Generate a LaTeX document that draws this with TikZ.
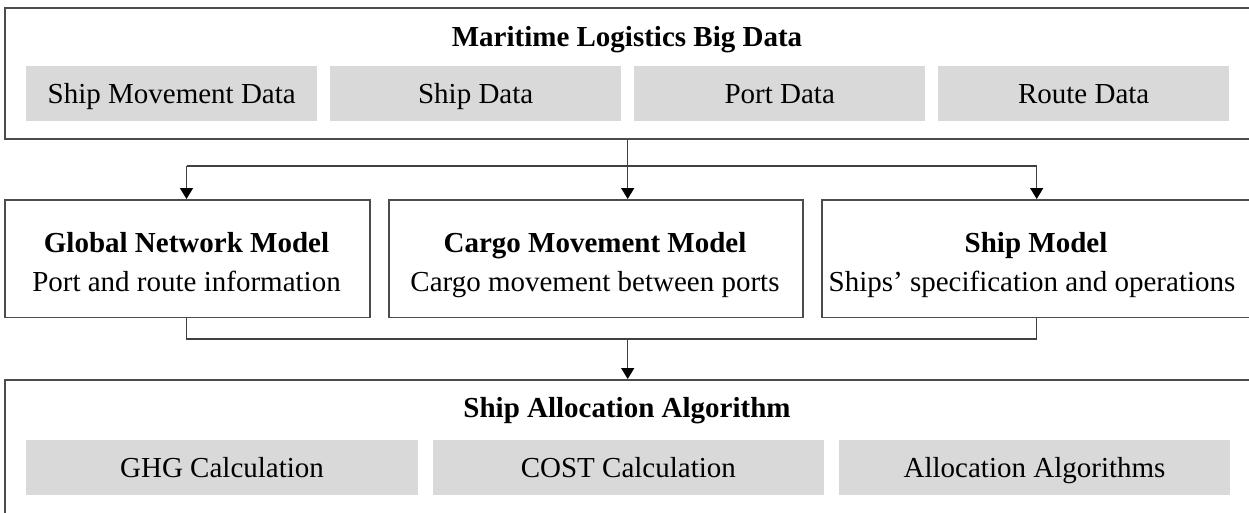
\documentclass[tikz,border=0pt]{standalone}
\usepackage{fontspec}
\setmainfont{Liberation Serif}
\usetikzlibrary{arrows.meta}
\begin{document}
\begin{tikzpicture}[x=1pt,y=-1pt,
  frame/.style={draw=black!70, line width=1.5pt, anchor=north west, inner sep=0pt},
  databox/.style={fill=black!15, anchor=north west, inner sep=0pt,
    text height=19pt, text depth=0pt, minimum height=54.7pt,
    font=\fontsize{29}{34}\selectfont},
  txt/.style={anchor=base, inner sep=0pt, font=\fontsize{29}{34}\selectfont},
  head/.style={anchor=base, inner sep=0pt, font=\fontsize{29}{34}\selectfont\bfseries},
  link/.style={draw=black!75, line width=1.5pt},
  arr/.style={link, -{Triangle[length=11pt,width=13pt,color=black]}}]
\useasboundingbox (0,0) rectangle (1249,512);
\begin{scope}
\clip (0,0) rectangle (1249,512);

% data layer
\node[frame, minimum width=1247pt, minimum height=131pt] (top) at (4,7) {};
\node[head] (topT) at (627,46) {Maritime Logistics Big Data};
\node[databox, minimum width=291pt] (d1) at (26,66) {Ship Movement Data};
\node[databox, minimum width=291pt] (d2) at (330,66) {Ship Data};
\node[databox, minimum width=291pt] (d3) at (634,66) {Port Data};
\node[databox, minimum width=291pt] (d4) at (938,66) {Route Data};

% model layer
\node[frame, minimum width=365pt, minimum height=117.7pt] (gnm) at (4,199) {};
\node[frame, minimum width=414pt, minimum height=117.7pt] (cmm) at (388,199) {};
\node[frame, minimum width=430pt, minimum height=117.7pt] (shm) at (821,199) {};
\node[head] (gnmT) at (186.5,252) {Global Network Model};
\node[txt]  (gnmS) at (186.5,291) {Port and route information};
\node[head] (cmmT) at (595,252) {Cargo Movement Model};
\node[txt]  (cmmS) at (595,291) {Cargo movement between ports};
\node[head] (shmT) at (1036,252) {Ship Model};
\node[txt]  (shmS) at (1032,291) {Ships’ specification and operations};

% allocation layer
\node[frame, minimum width=1247pt, minimum height=160pt] (alg) at (4,379) {};
\node[head] (algT) at (627,417) {Ship Allocation Algorithm};
\node[databox, minimum width=391.7pt] (c1) at (26,440) {GHG Calculation};
\node[databox, minimum width=391.7pt] (c2) at (432.3,440) {COST Calculation};
\node[databox, minimum width=391.7pt] (c3) at (838.5,440) {Allocation Algorithms};

% distribution from the data layer to the models
\coordinate (aL) at (186.5,166);
\coordinate (aM) at (627.7,166);
\coordinate (aR) at (1036.7,166);
\draw[link] (top.south -| aM) -- (aM);
\draw[link] (aL) -- (aR);
\draw[arr] (aL) -- (aL |- gnm.north);
\draw[arr] (aM) -- (aM |- cmm.north);
\draw[arr] (aR) -- (aR |- shm.north);

% collection from the models to the algorithm
\coordinate (bL) at (186.5,339);
\coordinate (bM) at (627.7,339);
\coordinate (bR) at (1036.7,339);
\draw[link] (gnm.south -| bL) -- (bL) -- (bR) -- (shm.south -| bR);
\draw[arr] (bM) -- (bM |- alg.north);
\end{scope}
\end{tikzpicture}
\end{document}
